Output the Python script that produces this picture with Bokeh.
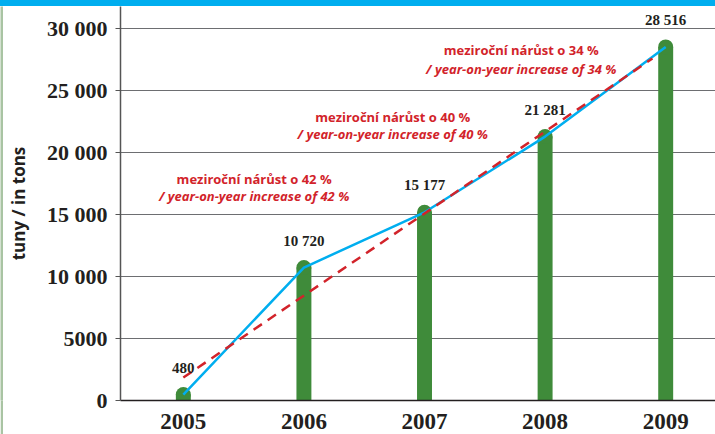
from bokeh.plotting import figure
from bokeh.layouts import column, row
from bokeh.models import Range1d, FixedTicker, ColumnDataSource, LabelSet, Label, Div
from bokeh.embed import file_html
from bokeh.resources import INLINE

# ---- data ----
years = [2005, 2006, 2007, 2008, 2009]
tons = [480, 10720, 15177, 21281, 28516]
value_labels = ["480", "10 720", "15 177", "21 281", "28 516"]
trend_years = [2005, 2008.89]
trend_tons = [1850, 27580]
y_ticks = [0, 5000, 10000, 15000, 20000, 25000, 30000]
y_tick_labels = ["0", "5000", "10 000", "15 000", "20 000", "25 000", "30 000"]
notes_cz = ["meziroční nárůst o 42 %", "meziroční nárůst o 40 %", "meziroční nárůst o 34 %"]
notes_en = ["/ year-on-year increase of 42 %", "/ year-on-year increase of 40 %",
            "/ year-on-year increase of 34 %"]
note_x = [2005.587, 2006.736, 2007.802]
note_y_cz = [17903, 22903, 28226]
note_y_en = [16452, 21452, 26774]
y_title = "tuny / in tons"

GREEN = "#3f8b3a"
BLUE = "#00aeef"
RED = "#d2232a"
DARK = "#231f20"
SAGE = "#a9c4a3"
SERIF = "Liberation Serif"
SANS = "Open Sans"

top_strip = Div(text="", width=715, height=6,
                styles={"background-color": BLUE, "margin": "0", "padding": "0"})

left_strip = figure(width=3, height=428, output_backend="svg", toolbar_location=None,
                    x_axis_type=None, y_axis_type=None, min_border=0,
                    background_fill_color=SAGE, border_fill_color=SAGE)
left_strip.outline_line_color = None
left_strip.grid.visible = False

p = figure(width=712, height=428, output_backend="svg", toolbar_location=None,
           x_range=Range1d(2004.479, 2009.413), y_range=Range1d(0, 31774),
           min_border_left=115, min_border_right=0, min_border_top=0, min_border_bottom=34)
p.outline_line_color = None
p.background_fill_color = "white"
p.border_fill_color = "white"

p.xgrid.grid_line_color = None
p.ygrid.grid_line_color = "#6d6e71"
p.ygrid.grid_line_width = 1
p.ygrid.ticker = FixedTicker(ticks=y_ticks)

p.yaxis.ticker = FixedTicker(ticks=y_ticks)
p.yaxis.major_label_overrides = {t: s for t, s in zip(y_ticks, y_tick_labels)}
p.yaxis.minor_tick_line_color = None
p.yaxis.major_tick_in = 0
p.yaxis.major_tick_out = 5
p.yaxis.major_tick_line_color = "#555555"
p.yaxis.axis_line_color = "#555555"
p.yaxis.axis_line_width = 1.5
p.yaxis.major_label_standoff = 8
p.yaxis.major_label_text_font = SERIF
p.yaxis.major_label_text_font_style = "bold"
p.yaxis.major_label_text_font_size = "22px"
p.yaxis.major_label_text_color = DARK
p.yaxis.axis_label = y_title
p.yaxis.axis_label_standoff = 14
p.yaxis.axis_label_text_font = SANS
p.yaxis.axis_label_text_font_style = "bold"
p.yaxis.axis_label_text_font_size = "17px"
p.yaxis.axis_label_text_color = DARK

p.xaxis.ticker = FixedTicker(ticks=years)
p.xaxis.minor_tick_line_color = None
p.xaxis.major_tick_line_color = None
p.xaxis.major_tick_in = 0
p.xaxis.major_tick_out = 0
p.xaxis.axis_line_color = DARK
p.xaxis.axis_line_width = 1.5
p.xaxis.major_label_standoff = 13
p.xaxis.major_label_text_font = SERIF
p.xaxis.major_label_text_font_style = "bold"
p.xaxis.major_label_text_font_size = "23px"
p.xaxis.major_label_text_color = DARK

src = ColumnDataSource(dict(x=years, y=tons, lab=value_labels))

p.vbar(x="x", top="y", bottom=0, width=0.124, source=src, fill_color=GREEN, line_color=None)
p.scatter(x="x", y="y", size=15, source=src, fill_color=GREEN, line_color=None)
p.line(x="x", y="y", source=src, line_color=BLUE, line_width=2.5)
p.line(x=trend_years, y=trend_tons, line_color=RED, line_width=2.5, line_dash="10 7")

p.add_layout(LabelSet(x="x", y="y", text="lab", source=src, y_offset=22,
                      text_align="center", text_baseline="alphabetic",
                      text_font=SERIF, text_font_style="bold", text_font_size="15px",
                      text_color=DARK))

for cz, en, nx, ycz, yen in zip(notes_cz, notes_en, note_x, note_y_cz, note_y_en):
    p.add_layout(Label(x=nx, y=ycz, text=cz, text_align="center", text_baseline="middle",
                       text_font=SANS, text_font_style="bold", text_font_size="13px",
                       text_color=RED))
    p.add_layout(Label(x=nx, y=yen, text=en, text_align="center", text_baseline="middle",
                       text_font=SANS, text_font_style="bold italic", text_font_size="13px",
                       text_color=RED))

layout = column(top_strip, row(left_strip, p, spacing=0), spacing=0)

open("out.html", "w").write(file_html(layout, INLINE))
